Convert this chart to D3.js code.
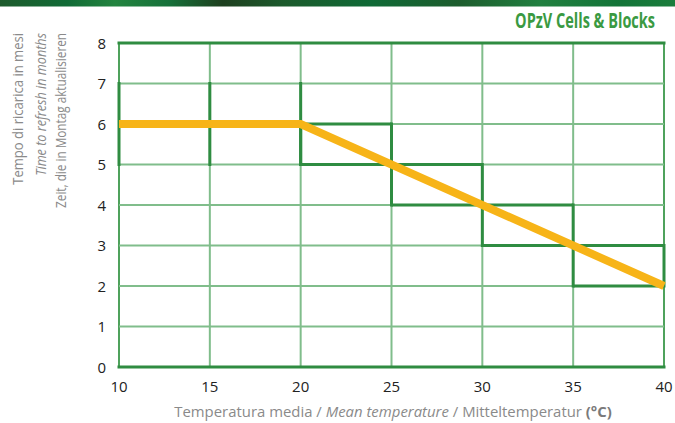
<!DOCTYPE html>
<html><head><meta charset="utf-8">
<script src="https://cdn.jsdelivr.net/npm/d3@7"></script>
<style>body{margin:0;background:#fff}svg{display:block}</style>
</head><body>
<script>
const xTicks = [10, 15, 20, 25, 30, 35, 40];
const yTicks = [0, 1, 2, 3, 4, 5, 6, 7, 8];
const lineTemp = [10, 20, 40];
const lineMonths = [6, 6, 2];
const boxX0 = [10, 20, 25, 30, 35];
const boxX1 = [20, 25, 30, 35, 40];
const boxLow = [5, 5, 4, 3, 2];
const boxHigh = [7, 6, 5, 4, 3];
const title = "OPzV Cells & Blocks";
const yTitles = ["Tempo di ricarica in mesi", "Time to refresh in months", "Zeit, die in Montag aktualisieren"];

const W = 675, H = 423;
const svg = d3.select("body").append("svg").attr("width", W).attr("height", H);
const defs = svg.append("defs");
const grad = defs.append("linearGradient").attr("id", "band");
[["0%","#1d5a2c"],["10%","#116b36"],["17%","#23843f"],["25%","#16713a"],["33%","#1e3f1f"],["42%","#1c5a2c"],["55%","#0f6a36"],["68%","#1d5c2d"],["80%","#218040"],["92%","#137438"],["100%","#1b7d3c"]]
  .forEach(s => grad.append("stop").attr("offset", s[0]).attr("stop-color", s[1]));
svg.append("rect").attr("x", 0).attr("y", 0).attr("width", W).attr("height", 6.5).attr("fill", "url(#band)");

// helper: fit a text horizontally into a given width by scaling
function fitText(sel, targetW) {
  const w = sel.node().getComputedTextLength();
  return w > 0 ? targetW / w : 1;
}

const tf = "Open Sans, sans-serif";
const tg = svg.append("g");
const tt = tg.append("text").attr("x", 0).attr("y", 0).attr("text-anchor", "end")
  .attr("font-family", tf).attr("font-weight", "bold").attr("font-size", 21)
  .attr("fill", "#3a9a42").text(title);
tg.attr("transform", `translate(655,28) scale(${fitText(tt, 140)},1)`);

const x = d3.scaleLinear().domain([10, 40]).range([119, 664]);
const y = d3.scaleLinear().domain([0, 8]).range([367, 43]);
const light = "#80bd8b", dark = "#2f8c41";

const g = svg.append("g");
g.selectAll(".vg").data(xTicks).join("line").attr("x1", d => x(d)).attr("x2", d => x(d))
  .attr("y1", y(8)).attr("y2", y(0)).attr("stroke", d => (d === 10 || d === 40) ? "#4fa25c" : light).attr("stroke-width", 2);
g.selectAll(".hg").data(yTicks).join("line").attr("y1", d => y(d)).attr("y2", d => y(d))
  .attr("x1", x(10)).attr("x2", x(40)).attr("stroke", light).attr("stroke-width", 2);
[0, 8].forEach(v => g.append("line").attr("x1", x(10) - 1.5).attr("x2", x(40) + 1.5).attr("y1", y(v)).attr("y2", y(v))
  .attr("stroke", dark).attr("stroke-width", 3));

boxX0.forEach((x0, i) => {
  const x1 = boxX1[i], lo = boxLow[i], hi = boxHigh[i];
  const verts = xTicks.filter(t => t >= x0 && t <= x1);
  verts.forEach(t => g.append("line").attr("x1", x(t)).attr("x2", x(t)).attr("y1", y(hi) - 1.5).attr("y2", y(lo) + 1.5)
    .attr("stroke", dark).attr("stroke-width", 3));
  if (i > 0) [lo, hi].forEach(v => g.append("line").attr("x1", x(x0)).attr("x2", x(x1)).attr("y1", y(v)).attr("y2", y(v))
    .attr("stroke", dark).attr("stroke-width", 3));
});

g.append("path").datum(lineTemp.map((t, i) => [t, lineMonths[i]]))
  .attr("d", d3.line().x(d => x(d[0])).y(d => y(d[1])))
  .attr("fill", "none").attr("stroke", "#f7b418").attr("stroke-width", 8).attr("stroke-linejoin", "miter");

svg.selectAll(".yl").data(yTicks).join("text").attr("x", 106).attr("y", d => y(d) + 5.5)
  .attr("text-anchor", "end").attr("font-family", tf).attr("font-size", 15).attr("fill", "#222").text(d => d);
svg.selectAll(".xl").data(xTicks).join("text").attr("x", d => x(d)).attr("y", 392)
  .attr("text-anchor", "middle").attr("font-family", tf).attr("font-size", 15).attr("fill", "#222").text(d => d);

// x title
const xg = svg.append("g");
const xt = xg.append("text").attr("x", 0).attr("y", 0).attr("text-anchor", "middle")
  .attr("font-family", tf).attr("font-size", 14).attr("fill", "#8a8a8a");
xt.append("tspan").text("Temperatura media  /  ");
xt.append("tspan").attr("font-style", "italic").text("Mean temperature");
xt.append("tspan").text("  /  Mitteltemperatur  ");
xt.append("tspan").attr("font-weight", "bold").attr("fill", "#7a7a7a").text("(°C)");
xg.attr("transform", `translate(393,417) scale(${fitText(xt, 438)},1)`);

// y titles
const yLens = [152, 143, 175];
const yX = [23, 46, 66];
yTitles.forEach((t, i) => {
  const yg = svg.append("g");
  const tx = yg.append("text").attr("x", 0).attr("y", 0).attr("text-anchor", "end")
    .attr("font-family", tf).attr("font-size", 15).attr("fill", "#8a8a8a")
    .attr("font-style", i === 1 ? "italic" : "normal").text(t);
  yg.attr("transform", `translate(${yX[i]},33) rotate(-90) scale(${fitText(tx, yLens[i])},1)`);
});
</script>
</body></html>
